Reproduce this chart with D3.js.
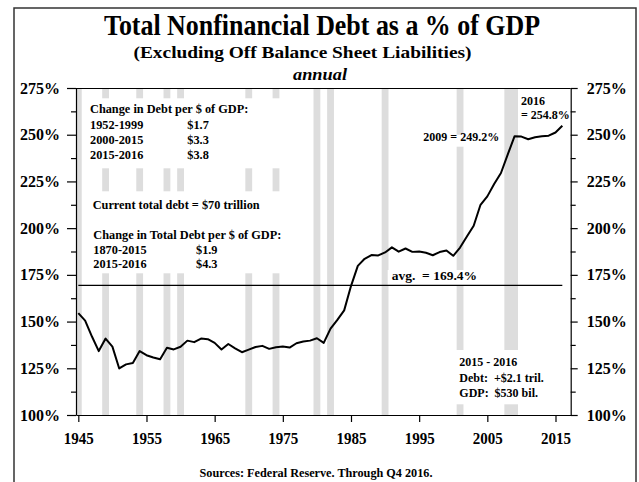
<!DOCTYPE html>
<html>
<head>
<meta charset="utf-8">
<script src="https://cdn.jsdelivr.net/npm/d3@7"></script>
<style>
  body { margin: 0; background: #fff; }
  text { font-family: "Liberation Serif", "Times New Roman", serif; font-weight: bold; fill: #000; white-space: pre; }
</style>
</head>
<body>
<div id="chart"></div>
<script>
// data
var years = [1945, 1946, 1947, 1948, 1949, 1950, 1951, 1952, 1953, 1954,
             1955, 1956, 1957, 1958, 1959, 1960, 1961, 1962, 1963, 1964,
             1965, 1966, 1967, 1968, 1969, 1970, 1971, 1972, 1973, 1974,
             1975, 1976, 1977, 1978, 1979, 1980, 1981, 1982, 1983, 1984,
             1985, 1986, 1987, 1988, 1989, 1990, 1991, 1992, 1993, 1994,
             1995, 1996, 1997, 1998, 1999, 2000, 2001, 2002, 2003, 2004,
             2005, 2006, 2007, 2008, 2009, 2010, 2011, 2012, 2013, 2014,
             2015, 2016]
var debtPct = [154.5, 150.5, 142.0, 134.2, 140.9, 136.6, 124.9, 127.1, 127.8, 134.2,
               132.0, 130.8, 129.8, 136.0, 135.1, 136.5, 139.8, 139.0, 140.9, 140.6,
               138.6, 135.1, 138.0, 135.7, 133.6, 135.0, 136.4, 137.0, 135.4, 136.3,
               136.6, 136.1, 138.4, 139.3, 139.8, 141.1, 138.6, 146.2, 150.9, 156.0,
               169.0, 179.8, 183.6, 185.6, 185.4, 187.0, 189.7, 187.4, 189.1, 187.3,
               187.5, 186.8, 185.5, 187.2, 188.0, 185.2, 189.6, 195.5, 201.3, 212.5,
               217.0, 223.6, 229.5, 239.5, 249.2, 249.0, 247.6, 248.6, 249.2, 249.5,
               251.2, 254.8]
var avgPct = 169.4
var recessions = [[1945, 1945], [1949, 1949], [1954, 1954], [1958, 1958], [1960, 1960],
                  [1970, 1970], [1974, 1974], [1980, 1980], [1982, 1982], [1990, 1990],
                  [2001, 2001], [2008, 2009]]
var yTicks = [100, 125, 150, 175, 200, 225, 250, 275]
var yMinorTicks = [112.5, 137.5, 162.5, 187.5, 212.5, 237.5, 262.5]
var xTicks = [1945, 1955, 1965, 1975, 1985, 1995, 2005, 2015]

var width = 639,
    height = 482

var svg = d3.select("#chart")
  .append("svg")
    .attr("width", width)
    .attr("height", height)

// scales
var x = d3.scaleLinear().domain([1944.66, 2017.23]).range([76, 570.7])
var y = d3.scaleLinear().domain([100, 275]).range([415, 88])

// outer frame
svg.append("rect")
  .attr("x", 14).attr("y", 8)
  .attr("width", 622).attr("height", 500)
  .attr("fill", "none")
  .attr("stroke", "#333")
  .attr("stroke-width", 1.5)

// titles
svg.append("text").text("Total Nonfinancial Debt as a % of GDP")
  .attr("x", 322).attr("y", 35)
  .attr("text-anchor", "middle")
  .style("font-size", "28.5px")
  .attr("textLength", 436).attr("lengthAdjust", "spacingAndGlyphs")
svg.append("text").text("(Excluding Off Balance Sheet Liabilities)")
  .attr("x", 302.5).attr("y", 57.5)
  .attr("text-anchor", "middle")
  .style("font-size", "17.5px")
  .attr("textLength", 338).attr("lengthAdjust", "spacingAndGlyphs")
svg.append("text").text("annual")
  .attr("x", 320).attr("y", 80)
  .attr("text-anchor", "middle")
  .style("font-size", "17.5px")
  .style("font-style", "italic")
  .attr("textLength", 54).attr("lengthAdjust", "spacingAndGlyphs")

// recession bands
svg.selectAll("rect.rec")
  .data(recessions)
  .enter()
  .append("rect")
    .attr("class", "rec")
    .attr("x", function(d) { return Math.max(x(d[0] - 0.5), x.range()[0]) })
    .attr("width", function(d) { return x(d[1] + 0.5) - Math.max(x(d[0] - 0.5), x.range()[0]) })
    .attr("y", y(275))
    .attr("height", y(100) - y(275))
    .attr("fill", "#dddddd")

// annotation blocks, each with a white backing box
function note(lines, size, pad) {
  var g = svg.append("g")
  var bg = g.append("rect").attr("fill", "#fff")
  lines.forEach(function(l) {
    g.append("text").text(l[0])
      .attr("x", l[1]).attr("y", l[2])
      .style("font-size", size + "px")
  })
  var b = g.node().getBBox()
  bg.attr("x", b.x - pad[3]).attr("y", b.y - pad[0])
    .attr("width", b.width + pad[1] + pad[3])
    .attr("height", b.height + pad[0] + pad[2])
}

note([["Change in Debt per $ of GDP:", 90, 113.3],
      ["1952-1999", 90, 128.6], ["$1.7", 187.3, 128.6],
      ["2000-2015", 90, 144], ["$3.3", 187.3, 144],
      ["2015-2016", 90, 159.3], ["$3.8", 187.3, 159.3]], 12.3, [4, 40, 6, 6])

note([["Current total debt = $70 trillion", 92.7, 209.3],
      ["Change in Total Debt per $ of GDP:", 93.3, 239],
      ["1870-2015", 93.3, 253.6], ["$1.9", 196, 253.6],
      ["2015-2016", 93.3, 268.3], ["$4.3", 196, 268.3]], 12.3, [7, 20, 2, 8])

note([["2009 = 249.2%", 423.3, 140.7]], 12, [-5, 2, 3, 3])
note([["2016", 521, 105], ["= 254.8%", 521, 119]], 12, [2, 1, 2, 2])
note([["avg.  = 169.4%", 391.7, 280]], 13.5, [-2, 2, 2, 4])
note([["2015 - 2016", 459.3, 366],
      ["Debt:  +$2.1 tril.", 459.3, 381.7],
      ["GDP:  $530 bil.", 459.3, 397.3]], 12, [5, 4, 4, 4])

// average line
svg.append("line")
  .attr("x1", x(years[0])).attr("x2", x(years[years.length - 1]))
  .attr("y1", y(avgPct)).attr("y2", y(avgPct))
  .attr("stroke", "#000")
  .attr("stroke-width", 1.2)

// debt line
var line = d3.line()
  .x(function(d, i) { return x(years[i]) })
  .y(function(d) { return y(d) })
svg.append("path")
  .datum(debtPct)
  .attr("d", line)
  .attr("fill", "none")
  .attr("stroke", "#000")
  .attr("stroke-width", 2)
  .attr("stroke-linejoin", "round")

// top border of the plot
svg.append("line")
  .attr("x1", x.range()[0]).attr("x2", x.range()[1])
  .attr("y1", y(275) + 0.5).attr("y2", y(275) + 0.5)
  .attr("stroke", "#000")
  .attr("stroke-width", 1.2)

// axes
var pctFmt = function(d) { return d + "%" }

var left = svg.append("g")
  .attr("transform", "translate(" + x.range()[0] + ",0)")
  .call(d3.axisLeft(y).tickValues(yTicks).tickSize(9).tickSizeOuter(0).tickPadding(7).tickFormat(pctFmt))
left.selectAll("text").style("font-size", "16px")

svg.append("g")
  .attr("transform", "translate(" + x.range()[0] + ",0)")
  .call(d3.axisLeft(y).tickValues(yMinorTicks).tickSize(5).tickSizeOuter(0).tickFormat(""))
  .select(".domain").remove()

var right = svg.append("g")
  .attr("transform", "translate(" + x.range()[1] + ",0)")
  .call(d3.axisRight(y).tickValues(yTicks).tickSize(7).tickSizeOuter(0).tickPadding(9).tickFormat(pctFmt))
right.selectAll("text").style("font-size", "16px")

svg.append("g")
  .attr("transform", "translate(" + x.range()[1] + ",0)")
  .call(d3.axisRight(y).tickValues(yMinorTicks).tickSize(5).tickSizeOuter(0).tickFormat(""))
  .select(".domain").remove()

var bottom = svg.append("g")
  .attr("transform", "translate(0," + y.range()[0] + ")")
  .call(d3.axisBottom(x).tickValues(xTicks).tickSize(7).tickSizeOuter(0).tickFormat(d3.format("d")))
bottom.selectAll("text")
  .attr("dy", null)
  .attr("y", 28.5)
  .style("font-size", "16.5px")
  .attr("textLength", 30).attr("lengthAdjust", "spacingAndGlyphs")

svg.selectAll(".domain, .tick line").attr("stroke-width", 1.2)

// source
svg.append("text").text("Sources: Federal Reserve. Through Q4 2016.")
  .attr("x", 316).attr("y", 476.5)
  .attr("text-anchor", "middle")
  .style("font-size", "11.5px")
  .attr("textLength", 233).attr("lengthAdjust", "spacingAndGlyphs")
</script>
</body>
</html>
